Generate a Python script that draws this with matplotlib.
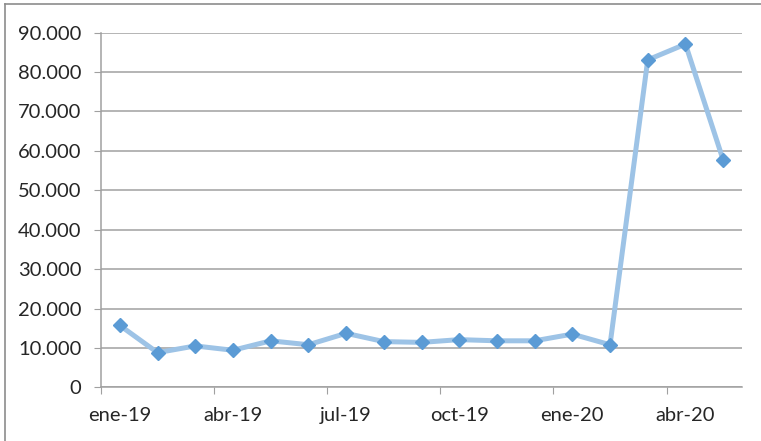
import matplotlib
import numpy as np

matplotlib.use("Agg")
import matplotlib.pyplot as plt
from matplotlib.lines import Line2D
from matplotlib.ticker import FuncFormatter

# monthly values, ene-19 .. may-20
months = ["ene-19", "feb-19", "mar-19", "abr-19", "may-19", "jun-19", "jul-19", "ago-19",
          "sep-19", "oct-19", "nov-19", "dic-19", "ene-20", "feb-20", "mar-20", "abr-20", "may-20"]
values = [15700, 8800, 10500, 9400, 11800, 10800, 13700, 11600,
          11400, 12100, 11800, 11800, 13500, 10800, 83100, 87100, 57700]
tick_labels = ["ene-19", "abr-19", "jul-19", "oct-19", "ene-20", "abr-20"]

plt.rcParams["font.family"] = ["Lato", "DejaVu Sans"]

fig = plt.figure(figsize=(7.61, 4.41), dpi=100)
ax = fig.add_axes([101 / 761, 1 - 387.3 / 441, (742 - 101) / 761, (387.3 - 32.7) / 441])

x = np.arange(len(months))
ax.plot(x, values, color="#9DC3E6", linewidth=3.6, solid_joinstyle="round", zorder=3)
ax.plot(x, values, linestyle="none", marker="D", markersize=7.5,
        color="#5B9BD5", markeredgecolor="#5B9BD5", zorder=4)

ax.set_xlim(-0.5, len(months) - 0.5)
ax.set_ylim(0, 90000)
ax.set_yticks(np.arange(0, 90001, 10000))
ax.yaxis.set_major_formatter(FuncFormatter(lambda v, p: f"{int(v):,}".replace(",", ".")))

# tick marks between categories, labels under the data points
ax.set_xticks(np.arange(-0.5, len(months) - 1, 3))
ax.set_xticklabels([])
ax.set_xticks(np.arange(0, len(months), 3), minor=True)
ax.set_xticklabels(tick_labels, minor=True)
ax.tick_params(axis="x", which="minor", length=0, pad=14)
ax.tick_params(axis="x", which="major", length=5, color="#A0A0A0", direction="out")
ax.tick_params(axis="y", length=5, color="#A0A0A0", direction="out", pad=9)
ax.tick_params(labelsize=14.5, labelcolor="#262626")
ax.tick_params(axis="x", which="minor", labelsize=14.5, labelcolor="#262626")

ax.grid(axis="y", color="#A0A0A0", linewidth=1.1)
ax.set_axisbelow(True)
for s in ["top", "right"]:
    ax.spines[s].set_visible(False)
for s in ["left", "bottom"]:
    ax.spines[s].set_color("#A0A0A0")
    ax.spines[s].set_linewidth(1.1)

# outer chart frame
fig.add_artist(Line2D([5 / 761, 1], [1 - 4 / 441, 1 - 4 / 441], color="#8C8C8C", linewidth=1.2))
fig.add_artist(Line2D([5 / 761, 5 / 761], [0, 1 - 4 / 441], color="#8C8C8C", linewidth=1.2))

fig.savefig("out.png", dpi=100)
